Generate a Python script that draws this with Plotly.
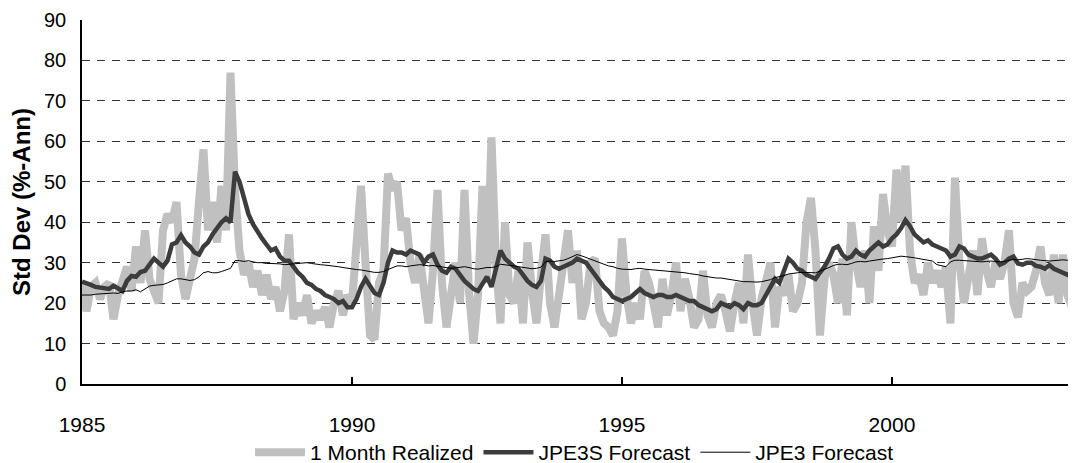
import plotly.graph_objects as go

start_year = 1985
n_months = 221

realized = [
    25, 18, 24, 25, 21, 24, 25, 16, 22, 25, 29, 23,   # 1985
    34, 25, 38, 26, 23, 20, 38, 42, 40, 45, 27, 21,   # 1986
    26, 31, 45, 58, 38, 45, 35, 49, 38, 77, 48, 33,   # 1987
    27, 30, 24, 28, 22, 27, 21, 24, 18, 23, 37, 16,   # 1988
    20, 17, 22, 15, 18, 16, 19, 14, 20, 23, 17, 22,   # 1989
    20, 35, 49, 30, 12, 11, 25, 28, 52, 48, 50, 38,   # 1990
    41, 30, 25, 32, 22, 15, 28, 48, 25, 14, 22, 30,   # 1991
    20, 48, 23, 10, 22, 49, 25, 61, 30, 15, 40, 22,   # 1992
    20, 28, 15, 35, 23, 15, 27, 37, 20, 14, 22, 30,   # 1993
    38, 25, 33, 16, 20, 30, 31, 18, 15, 14, 12, 18,   # 1994
    36, 22, 15, 20, 16, 28, 25, 20, 14, 26, 17, 22,   # 1995
    30, 18, 26, 21, 14, 16, 28, 17, 14, 20, 22, 18,   # 1996
    13, 20, 25, 15, 32, 20, 12, 21, 25, 30, 14, 24,   # 1997
    22, 27, 18, 20, 25, 40, 46, 33, 12, 26, 30, 27,   # 1998
    20, 31, 17, 40, 30, 24, 33, 20, 39, 28, 47, 38,   # 1999
    34, 53, 40, 54, 33, 25, 27, 22, 30, 25, 28, 24,   # 2000
    29, 15, 51, 30, 20, 28, 33, 22, 36, 28, 24, 30,   # 2001
    26, 30, 38, 20, 16.5, 25, 23, 24, 28, 34, 25, 22,  # 2002
    32, 20, 32, 22, 19,                               # 2003
]

jpe3s = [
    25.3, 25, 24.5, 24, 23.8, 23.6, 23.5, 24.3, 23.5, 23, 25.5, 26.7,
    26.5, 27.7, 28, 29.5, 31, 30, 29, 30.5, 34.5, 35, 36.8, 35,
    34, 32.5, 32, 34, 35, 37, 38.5, 40, 41, 40, 52.5, 50,
    46, 42, 39.5, 37.5, 36, 34.5, 33, 33.5, 31.5, 30.5, 30.5, 29,
    27.5, 26.5, 25, 24.5, 23.5, 23, 22, 21.5, 21, 20, 20.5, 19,
    19, 21, 24, 26, 24, 22.5, 22, 25, 30, 33, 32.5, 32.5,
    32, 33, 32.5, 32, 30, 31.5, 32, 29.5, 28, 27.5, 29, 28.5,
    27, 25.5, 24.5, 23.5, 23, 25, 26.5, 24, 28, 33, 31, 30,
    29, 28.5, 27, 25.5, 24.5, 24, 25.5, 31, 30.5, 29, 28.5, 29,
    29.5, 30, 31, 30.5, 30, 28.5, 27, 25.5, 24, 23, 21.5, 21,
    20.5, 21, 21.5, 22.5, 23.5, 22.5, 22, 21.5, 22, 22, 21.5, 21.5,
    22, 21.5, 21, 20.5, 20.5, 19.5, 19, 18.5, 18, 18.5, 20, 19.5,
    19, 20, 19.5, 18.5, 20, 19.5, 19.5, 20, 22, 24, 26, 25,
    28, 31, 30, 28.5, 28, 27, 26.5, 26, 27.5, 29, 31, 33.5,
    34, 32, 31, 31.5, 33, 32, 31.5, 33, 34, 35, 34, 34.5,
    36, 37, 38.5, 40.5, 39, 37, 36, 35, 35.5, 34.5, 34, 33.5,
    33, 31.5, 32, 34, 33.5, 32, 31.5, 31, 31, 31.5, 32, 31,
    29.5, 30, 31, 31.5, 29.8, 29.5, 30, 30, 29.2, 29, 28.5, 29.4,
    28.5, 28, 27.5, 27, 27.5,
]

jpe3 = [
    22, 22, 22, 22.2, 22.3, 22.3, 22.5, 22.5, 22.4, 22.8, 23, 23,
    23.3, 22.8, 23.5, 24.2, 24.4, 24.5, 24.6, 25, 25.5, 26, 26, 25.8,
    25.6, 25.8, 26.5, 27.5, 27.8, 27.5, 27.5, 27.8, 28.2, 28.6, 30.5, 30.5,
    30.3, 30.5, 30.2, 30, 30, 29.8, 29.8, 29.8, 29.7, 29.5, 29.6, 29.7,
    29.8, 30, 30, 29.8, 29.6, 29.5, 29.4, 29.3, 29.2, 29, 28.8, 28.6,
    28.4, 28.3, 28.2, 28, 27.8, 27.6, 27.6, 27.8, 28.3, 28.8, 29.2, 29.2,
    29, 29.2, 29.3, 29.5, 29.4, 29.2, 29.3, 29.1, 28.9, 28.8, 28.6, 28.7,
    28.8, 29, 28.8, 28.5, 28.4, 28.6, 28.8, 28.8, 29, 29.6, 29.5, 29.4,
    29.2, 29, 28.8, 28.6, 28.5, 28.6, 28.9, 30.2, 30.4, 30.3, 30.4, 30.6,
    31, 31.5, 32, 31.7, 31.3, 30.8, 30.4, 30, 29.6, 29.2, 29, 28.6,
    28.4, 28.3, 28.3, 28.5, 28.6, 28.4, 28.3, 28.2, 28.1, 28, 27.9, 27.8,
    27.8, 27.7, 27.5, 27.3, 27.2, 27, 26.7, 26.5, 26.3, 26.2, 26.2, 26,
    25.8, 25.7, 25.5, 25.3, 25.3, 25.2, 25.2, 25.3, 25.5, 25.8, 26.3, 26.5,
    26.8, 27.2, 27.4, 27.5, 27.6, 27.6, 27.5, 27.5, 27.9, 28.3, 28.8, 29.3,
    29.6, 29.6, 29.5, 29.8, 30.2, 30.3, 30.2, 30.4, 30.6, 30.8, 30.9, 31,
    31.2, 31.4, 31.6, 31.5, 31.4, 31.2, 31, 30.8, 30.6, 30.4, 29.5, 29.2,
    29, 30.2, 30.6, 30.6, 30.5, 30.4, 30.3, 30.2, 30.2, 30.3, 30.4, 30.3,
    30.2, 30.3, 30.6, 30.8, 30.7, 30.8, 31, 30.9, 30.7, 30.6, 30.5, 30.4,
    30.5, 30.6, 30.7, 30.6, 30.6,
]

tick_years = [1985, 1990, 1995, 2000]

x = [start_year + i / 12 for i in range(n_months)]

FONT = "Liberation Sans, Arial, sans-serif"

fig = go.Figure()
fig.add_trace(go.Scatter(x=x, y=realized, mode="lines", name="1 Month Realized",
                         line=dict(color="#c0c0c0", width=8)))
fig.add_trace(go.Scatter(x=x, y=jpe3s, mode="lines", name="JPE3S Forecast",
                         line=dict(color="#3c3c3c", width=4.5)))
fig.add_trace(go.Scatter(x=x, y=jpe3, mode="lines", name="JPE3 Forecast",
                         line=dict(color="#000000", width=1)))

# The page body adds an 8px offset, so the figure is sized to fill the window from there.
fig.update_layout(
    width=1068, height=455,
    margin=dict(l=74, r=0, t=11.5, b=79, autoexpand=False),
    paper_bgcolor="white", plot_bgcolor="white",
    font=dict(family=FONT, size=20, color="black"),
    showlegend=True,
    legend=dict(orientation="h", x=0.4955, xanchor="center", y=-0.132, yanchor="top",
                font=dict(size=21), itemwidth=50, tracegroupgap=0),
    xaxis=dict(range=[start_year, start_year + 220.9 / 12], automargin=False,
               tickvals=tick_years, ticktext=[str(v) for v in tick_years],
               showgrid=False, zeroline=False, showline=True, linecolor="black", linewidth=1.5,
               ticks="inside", ticklen=7, tickcolor="black", tickwidth=1.5,
               ticklabelstandoff=21, tickfont=dict(size=21)),
    yaxis=dict(range=[0, 90], dtick=10, showgrid=True, gridcolor="#333333", gridwidth=1,
               automargin=False,
               griddash="8px,7px", zeroline=False, showline=True, linecolor="black", linewidth=1.5,
               ticks="", ticklabelstandoff=10, tickfont=dict(size=20),
               title=dict(text="<b>Std Dev (%-Ann)</b>", font=dict(size=24), standoff=7)),
)

fig.write_html("out.html")
